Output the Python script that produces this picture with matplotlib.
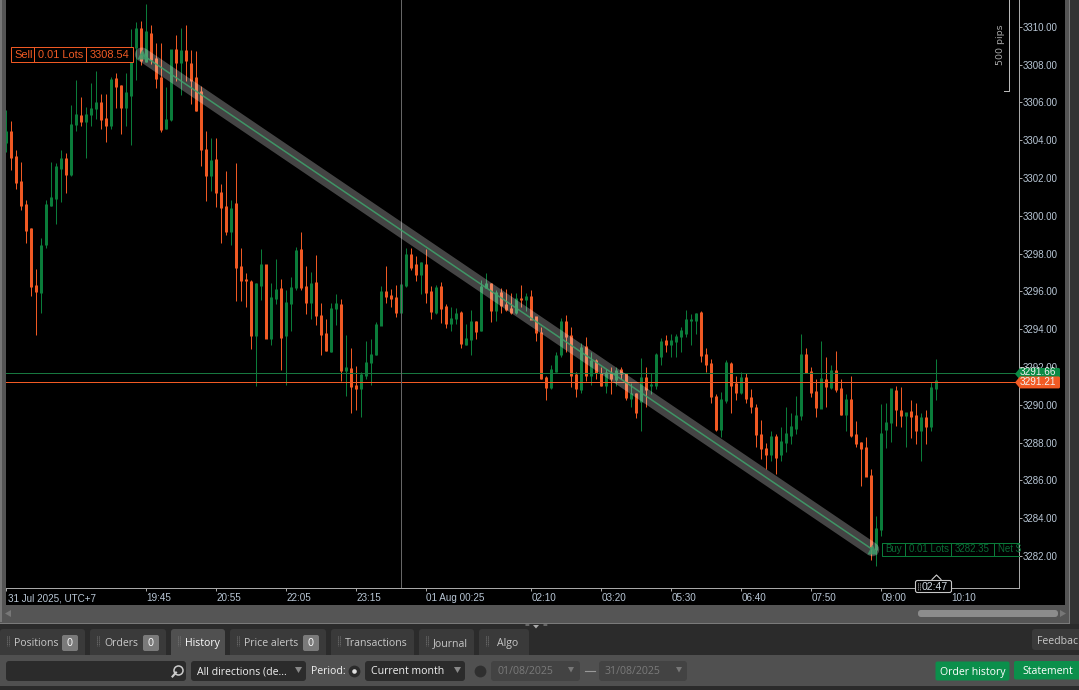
import matplotlib
matplotlib.use("Agg")
import matplotlib.pyplot as plt
from matplotlib.patches import Rectangle, FancyBboxPatch, Polygon
from matplotlib.transforms import ScaledTranslation

plt.rcParams['font.family'] = ['Open Sans', 'DejaVu Sans']

opens = [3303.86,3304.46,3303.14,3301.82,3300.60,3299.33,3296.31,3295.94,3298.48,3300.54,
3300.91,3302.50,3303.03,3302.19,3304.83,3305.31,3304.99,3305.36,3305.68,3305.99,
3305.15,3304.78,3307.27,3306.90,3305.73,3306.37,3308.91,3309.91,3308.17,3309.65,
3308.31,3307.32,3304.62,3305.10,3308.78,3308.11,3308.75,3308.06,3307.32,3306.58,
3303.51,3302.13,3302.98,3301.24,3300.49,3299.17,3300.65,3297.32,3296.63,3296.52,
3293.67,3296.31,3297.42,3293.51,3295.62,3296.15,3293.67,3295.36,3296.21,3298.22,
3296.26,3295.41,3296.47,3294.73,3293.77,3292.82,3295.10,3295.31,3291.82,3291.92,
3291.02,3290.86,3291.55,3292.24,3292.66,3294.20,3295.99,3295.78,3295.68,3294.88,
3296.31,3297.95,3297.43,3296.90,3297.43,3295.99,3294.88,3296.26,3295.20,3294.31,
3294.57,3294.88,3293.19,3293.46,3294.40,3293.93,3296.19,3296.42,3294.99,3295.94,
3295.31,3295.10,3294.87,3295.62,3295.57,3295.73,3294.67,3293.83,3291.45,3290.92,
3291.76,3292.66,3294.40,3293.67,3291.60,3290.81,3293.08,3291.55,3292.35,3291.66,
3291.02,3291.66,3291.34,3291.87,3291.66,3290.34,3290.60,3290.18,3291.45,3291.02,
3291.02,3292.55,3293.40,3293.19,3293.35,3293.61,3293.77,3294.46,3294.46,3294.88,
3292.66,3292.19,3290.44,3288.70,3290.23,3292.19,3291.13,3290.65,3291.45,3290.39,
3289.86,3288.43,3287.69,3287.37,3288.32,3287.37,3288.01,3288.37,3288.75,3289.44,
3292.66,3291.76,3290.71,3289.81,3291.34,3290.92,3291.82,3290.86,3289.49,3290.28,
3288.43,3288.01,3287.74,3286.26,3282.35,3283.39,3288.70,3289.06,3290.76,3289.70,
3289.44,3289.65,3289.44,3288.64,3289.33,3288.85,3290.86]
highs = [3305.62,3305.04,3303.46,3302.86,3300.86,3299.33,3297.16,3298.80,3300.81,3302.86,
3302.80,3303.46,3303.33,3305.87,3307.16,3306.26,3305.77,3307.05,3307.64,3306.42,
3306.47,3307.32,3307.57,3306.90,3307.58,3309.86,3310.28,3310.33,3311.18,3310.07,
3309.15,3309.12,3306.79,3308.78,3309.59,3309.96,3310.07,3308.75,3308.70,3306.86,
3304.51,3304.14,3304.09,3301.66,3302.35,3300.81,3302.77,3298.32,3296.95,3296.58,
3296.47,3298.22,3297.42,3296.47,3297.69,3296.63,3296.05,3296.74,3298.37,3299.12,
3297.32,3297.05,3297.90,3295.41,3294.52,3295.36,3295.84,3295.62,3293.67,3292.98,
3292.03,3291.76,3293.35,3293.46,3294.40,3296.31,3297.37,3296.15,3296.36,3296.36,
3298.32,3298.27,3297.85,3297.58,3298.22,3296.26,3296.36,3296.52,3295.31,3295.20,
3295.10,3294.94,3294.26,3294.99,3294.46,3296.58,3296.95,3296.42,3296.05,3296.19,
3296.15,3295.89,3295.94,3296.36,3295.94,3296.05,3294.67,3294.14,3291.55,3292.08,
3292.82,3294.57,3294.73,3294.14,3291.76,3293.25,3293.61,3292.77,3292.40,3291.98,
3291.92,3291.98,3291.98,3291.98,3291.66,3291.13,3290.60,3292.50,3291.98,3291.66,
3292.72,3293.51,3293.67,3293.77,3293.77,3294.09,3295.04,3294.83,3294.88,3294.94,
3292.98,3292.40,3290.55,3290.70,3292.35,3292.24,3291.55,3291.71,3291.66,3290.81,
3290.02,3289.17,3287.99,3288.59,3288.48,3288.85,3289.91,3289.54,3290.49,3293.72,
3292.98,3291.98,3291.34,3293.35,3292.55,3292.13,3292.87,3291.34,3290.55,3291.55,
3289.12,3288.01,3288.27,3286.58,3284.14,3290.02,3290.07,3290.86,3290.97,3290.92,
3289.59,3290.23,3290.07,3289.59,3289.75,3291.18,3292.40]
lows = [3303.37,3302.42,3301.40,3300.33,3298.54,3295.78,3293.67,3294.88,3298.27,3300.54,
3299.59,3300.72,3301.18,3302.10,3304.51,3304.73,3303.08,3304.73,3305.10,3304.57,
3303.93,3304.57,3305.73,3304.35,3304.73,3303.72,3307.16,3307.99,3308.13,3308.01,
3306.77,3304.41,3304.57,3304.99,3307.11,3306.37,3307.11,3305.94,3305.57,3302.63,
3300.76,3301.29,3300.49,3298.54,3299.01,3298.43,3295.47,3295.47,3295.20,3292.93,
3291.02,3295.57,3293.51,3293.19,3295.31,3291.82,3291.07,3293.93,3296.10,3296.10,
3294.78,3294.52,3294.20,3292.61,3292.87,3292.77,3294.20,3291.24,3290.49,3289.54,
3289.70,3289.38,3291.39,3291.07,3292.66,3294.20,3295.36,3295.15,3294.67,3294.88,
3296.21,3297.11,3296.53,3295.84,3295.36,3294.52,3294.78,3294.31,3294.04,3293.88,
3294.26,3292.98,3293.19,3292.66,3293.46,3293.93,3296.19,3294.36,3294.46,3294.88,
3294.94,3294.78,3294.83,3295.20,3294.94,3294.52,3293.40,3291.34,3290.23,3290.81,
3291.76,3292.55,3292.77,3290.92,3290.39,3290.65,3291.24,3291.07,3291.34,3290.97,
3290.65,3290.55,3291.02,3291.34,3290.28,3289.86,3289.28,3288.59,3289.86,3290.55,
3290.81,3292.08,3292.82,3292.55,3292.55,3292.82,3293.61,3293.19,3293.77,3292.29,
3291.76,3290.12,3288.64,3288.32,3290.12,3289.54,3290.23,3290.55,3290.12,3289.54,
3287.79,3287.11,3286.58,3287.05,3286.36,3287.05,3287.48,3287.90,3288.48,3289.22,
3291.71,3290.39,3289.33,3289.81,3289.86,3290.86,3290.70,3289.44,3288.64,3288.32,
3287.79,3285.73,3286.21,3281.81,3281.45,3283.07,3287.74,3288.01,3288.90,3288.85,
3287.79,3288.22,3287.95,3287.00,3287.95,3288.64,3290.23]
closes = [3304.48,3303.10,3301.75,3300.54,3299.22,3296.26,3295.99,3298.45,3300.60,3300.97,
3302.63,3303.03,3302.19,3304.83,3305.36,3304.99,3305.36,3305.68,3305.99,3305.10,
3304.78,3307.21,3306.84,3305.73,3306.52,3308.18,3309.91,3308.22,3309.75,3308.27,
3307.27,3304.57,3305.10,3308.78,3308.11,3308.75,3308.22,3307.16,3305.57,3303.51,
3302.13,3302.93,3301.24,3300.44,3299.17,3300.39,3297.27,3296.58,3296.58,3293.67,
3296.42,3297.42,3293.51,3295.68,3296.10,3293.56,3295.41,3296.21,3298.17,3296.21,
3295.41,3296.42,3294.73,3293.72,3292.87,3295.10,3295.36,3291.82,3291.98,3290.97,
3290.86,3291.60,3292.24,3292.66,3294.24,3295.99,3295.73,3295.62,3294.88,3296.36,
3297.95,3297.27,3296.90,3297.53,3295.94,3294.94,3296.21,3295.10,3294.31,3294.57,
3294.83,3293.25,3293.51,3294.40,3293.88,3296.26,3296.42,3294.99,3295.94,3295.25,
3295.04,3294.88,3295.62,3295.57,3295.73,3294.52,3293.83,3291.39,3290.92,3291.87,
3292.61,3294.40,3293.61,3291.55,3290.86,3293.03,3291.55,3292.35,3291.71,3291.02,
3291.71,3291.39,3291.82,3291.66,3290.39,3290.60,3289.59,3291.45,3290.81,3291.07,
3292.66,3293.35,3293.19,3293.40,3293.61,3293.93,3294.52,3294.52,3294.83,3292.61,
3292.13,3290.44,3288.70,3290.28,3292.24,3291.02,3290.65,3291.45,3290.34,3289.91,
3288.43,3287.69,3287.37,3288.32,3287.21,3288.06,3288.48,3288.85,3289.44,3292.66,
3291.71,3290.65,3289.86,3291.39,3290.97,3291.82,3290.81,3289.49,3290.28,3288.38,
3287.95,3287.69,3286.21,3282.52,3283.46,3288.48,3289.06,3290.86,3289.75,3289.44,
3289.59,3289.38,3288.64,3289.33,3288.85,3290.92,3291.28]

y_ticks = [3282,3284,3286,3288,3290,3292,3294,3296,3298,3300,3302,3304,3306,3308,3310]
x_tick_pos = [0,28,42,56,70,84,105,119,133,147,161,175,189]
x_tick_labels = ['31 Jul 2025, UTC+7','19:45','20:55','22:05','23:15','01 Aug 00:25',
                 '02:10','03:20','05:30','06:40','07:50','09:00','10:10']
ask_price = 3291.66
bid_price = 3291.21
sell_price = 3308.54
buy_price = 3282.35
sell_index = 27.1
buy_index = 173.2
cursor_index = 79

RED = '#f15a24'
GREEN = '#0b7d3b'
ROW = '#505050'
W, H = 1079, 690
Y0 = 26.8   # pixel row of the 3310 level

fig = plt.figure(figsize=(W/100, H/100), dpi=100, facecolor=ROW)

def px_axes(z):
    a = fig.add_axes([0, 0, 1, 1], zorder=z)
    a.set_xlim(0, W); a.set_ylim(H, 0); a.axis('off'); a.patch.set_alpha(0)
    return a

bg = px_axes(0)
fg = px_axes(5)

def rect(a, x0, y0, x1, y1, color, **kw):
    a.add_patch(Rectangle((x0, y0), x1-x0, y1-y0, facecolor=color, edgecolor='none', **kw))

def rrect(a, x0, y0, x1, y1, color, r=3, **kw):
    a.add_patch(FancyBboxPatch((x0+r, y0+r), x1-x0-2*r, y1-y0-2*r,
                boxstyle=f'round,pad={r},rounding_size={r}', facecolor=color, edgecolor='none', **kw))

# window chrome
rect(bg, 0, 0, W, 624, '#555555')
rect(bg, 0, 0, 1.5, 622, '#777777')
rect(bg, 6, 0, 1065, 604.7, '#000000')
rect(bg, 1070, 0, W, 624, '#333333')
rect(bg, 0, 623, 1070, 624, '#7a7a7a')
rect(bg, 1069, 0, 1070, 624, '#7a7a7a')
rect(bg, 0, 624, W, 655, '#2b2b2b')
rect(bg, 0, 655, W, H, ROW)
rect(bg, 0, 686, W, H, '#2b2b2b')

# chart
ax = fig.add_axes([6/W, 1-588/H, (1019-6)/W, 588/H], zorder=2, facecolor='#000000')
ax.set_xlim(-0.06, 202.54)
ax.set_ylim(3310-(588-Y0)/18.9, 3310+Y0/18.9)
idx = list(range(len(opens)))
colors = [GREEN if c >= o else RED for o, c in zip(opens, closes)]
ax.vlines(idx, lows, highs, colors=colors, linewidth=0.715, zorder=2)
body_lo = [min(o, c) - 0.02 for o, c in zip(opens, closes)]
body_hi = [max(o, c) + 0.02 for o, c in zip(opens, closes)]
ax.vlines(idx, body_lo, body_hi, colors=colors, linewidth=2.15, zorder=3, capstyle='butt')
ax.axhline(ask_price, color='#17773f', lw=0.715, zorder=4, antialiased=False)
ax.axhline(bid_price, color=RED, lw=0.715, zorder=4, antialiased=False)
ax.axvline(cursor_index, color='#666666', lw=0.715, zorder=5, antialiased=False)
ax.plot([sell_index, buy_index], [sell_price, buy_price], color='white', alpha=0.27,
        lw=10, solid_capstyle='round', zorder=6)
ax.plot([sell_index, buy_index], [sell_price, buy_price], color='#3fa36c', alpha=0.85,
        lw=1.1, zorder=7)
ax.plot([sell_index, buy_index], [sell_price, buy_price], ls='none', marker='^', ms=7,
        color='#3f9a6a', alpha=0.85, mec='none', zorder=8)

ax.yaxis.tick_right()
ax.set_yticks(y_ticks)
ax.set_yticklabels([f'{v:.2f}' for v in y_ticks], fontsize=7.0, color='#b9c7d6',
                   family=['Liberation Sans'])
ax.tick_params(axis='y', length=2, width=0.715, color='#aaaaaa', pad=0.6)
ax.set_xticks(x_tick_pos)
ax.set_xticklabels(x_tick_labels, fontsize=7.1, color='#b9c7d6', ha='left',
                   family=['Liberation Sans'])
ax.tick_params(axis='x', length=2, width=0.715, color='#aaaaaa', pad=1.8)
first_label = ax.get_xticklabels()[0]
first_label.set_transform(first_label.get_transform()
                          + ScaledTranslation(0.015, 0, fig.dpi_scale_trans))
for s in ['top', 'left']:
    ax.spines[s].set_visible(False)
for s in ['right', 'bottom']:
    ax.spines[s].set_color('#aaaaaa'); ax.spines[s].set_linewidth(0.715)

def y_of(p):
    return Y0 + (3310-p)*18.9

# sell label
fg.add_patch(Rectangle((10.5, 46.5), 122.5, 15, fc='#000000', ec=RED, lw=0.715))
for xs in (33.5, 85.5):
    fg.plot([xs, xs], [46.5, 61.5], color=RED, lw=0.715)
tk = dict(fontsize=7.9, va='center', color=RED, family=['Liberation Sans'])
fg.text(14.5, 54.8, 'Sell', **tk)
fg.text(38.5, 54.8, '0.01 Lots', **tk)
fg.text(90, 54.8, f'{sell_price:.2f}', **tk)

# buy label
BG = '#0a6b35'
fg.plot([1019, 881.5, 881.5, 1019], [542.5, 542.5, 555.5, 555.5], color=GREEN, lw=0.715)
for xs in (905, 950.5, 993.5):
    fg.plot([xs, xs], [542.5, 555.5], color=GREEN, lw=0.715)
tk = dict(fontsize=7.0, va='center', color=BG, family=['Liberation Sans'])
fg.text(885, 549.3, 'Buy', **tk)
fg.text(909, 549.3, '0.01 Lots', **tk)
fg.text(955, 549.3, f'{buy_price:.2f}', **tk)
t = fg.text(998, 549.3, 'Net $', **tk)
t.set_clip_path(Rectangle((881, 540), 138, 18, transform=fg.transData))

# price tags
def tag(p, color, dy):
    y = y_of(p) + 0.5
    fg.add_patch(Polygon([(1015, y), (1020, y-6), (1059, y-6), (1060, y-5), (1060, y+5),
                          (1059, y+6), (1020, y+6)], closed=True, fc=color, ec='none'))
    fg.text(1038, y+dy, f'{p:.2f}', ha='center', va='center', color='#f2f2f2', fontsize=7.2,
            family=['Liberation Sans'])
tag(ask_price, '#0b8a45', -1.6)
tag(bid_price, RED, 0.0)

# 500 pips ruler
fg.plot([1008.7, 1008.7, 1004], [0, 91, 91], color='#bbbbbb', lw=0.715)
fg.text(1000.5, 45, '500 pips', rotation=90, ha='center', va='center', color='#a8a8a8',
        fontsize=6.8, family=['DejaVu Sans'])

# countdown
fg.plot([932, 936.5, 941], [579.5, 575, 579.5], color='#d0d0d0', lw=0.8)
fg.add_patch(FancyBboxPatch((916, 581), 35, 11, boxstyle='round,pad=0.5,rounding_size=2',
                            fc='#000000', ec='#c8c8c8', lw=0.8))
fg.text(921.5, 587, '02:47', va='center', color='#cfd8e0', fontsize=7.6, family=['Liberation Sans'])
for xx in (917.7, 919.5):
    fg.plot([xx, xx], [583, 590], color='#bbbbbb', lw=0.7, ls=(0, (1, 1)))

# scrollbar
rrect(fg, 918, 610, 1058, 617, '#8c8c8c', r=3)
fg.add_patch(Polygon([(1060, 610), (1060, 617), (1066, 613.5)], fc='#777777', ec='none'))
fg.add_patch(Polygon([(11, 610), (11, 617), (5, 613.5)], fc='#777777', ec='none'))

# splitter
fg.text(527, 626, '=', fontsize=6, color='#aaaaaa', ha='center', va='center')
fg.add_patch(Polygon([(533, 625), (539, 625), (536, 628.5)], fc='#aaaaaa', ec='none'))
fg.text(545, 626, '=', fontsize=6, color='#aaaaaa', ha='center', va='center')

# tabs
UI = dict(va='center', fontsize=7.6, family=['Open Sans'])
tabs = [('Positions', 0, 85, 14, 62), ('Orders', 90, 166, 104, 143), ('History', 171, 225, 185, None),
        ('Price alerts', 230, 326, 244, 303), ('Transactions', 331, 414, 345, None),
        ('Journal', 419, 474, 433, None), ('Algo', 479, 529, 497, None)]
for name, x0, x1, tx, badge in tabs:
    active = name == 'History'
    rrect(fg, x0, 629, x1, 660, ROW if active else '#3a3a3a', r=3)
    rect(fg, x0-1, 655, x1+1, 660, ROW)
    fg.text(tx, 643.3, name, color='#ffffff' if active else '#c8c8c8', **UI)
    for xx in (x0+6.5, x0+8.5):
        fg.plot([xx, xx], [636, 646], color='#777777', lw=0.7, ls=(0, (1, 1)))
    if badge is not None:
        rrect(fg, badge, 635, badge+16, 651, '#7a7a7a', r=2)
        fg.text(badge+7.5, 644, '0', color='#ffffff', ha='center', fontsize=7.6, va='center',
                family=['Open Sans'])

rrect(fg, 1032, 629, 1090, 650, '#3a3a3a', r=3)
fg.text(1037, 641.3, 'Feedback', color='#c8c8c8', **UI)

# filter row
rrect(fg, 6, 661, 186, 681, '#2b2b2b', r=3)
fg.plot([176, 172.5], [672.5, 676.5], color='#cccccc', lw=1.5)
fg.plot([178], [670], marker='o', ms=6.5, mfc='none', mec='#cccccc', mew=1.1)
rrect(fg, 191, 661, 306, 681, '#2b2b2b', r=3)
fg.text(197, 671.8, 'All directions (de...', color='#f0f0f0', **UI)
fg.add_patch(Polygon([(295, 667), (302, 667), (298.5, 673)], fc='#888888', ec='none'))
fg.text(311, 671.8, 'Period:', color='#f0f0f0', **UI)
fg.plot([354], [671], marker='o', ms=8.5, mfc='#2b2b2b', mec='none')
fg.plot([354], [671], marker='o', ms=3.3, mfc='#e0e0e0', mec='none')
rrect(fg, 365, 661, 465, 681, '#2b2b2b', r=3)
fg.text(371, 671.8, 'Current month', color='#f0f0f0', **UI)
fg.add_patch(Polygon([(454, 667), (461, 667), (457.5, 673)], fc='#888888', ec='none'))
fg.plot([480], [671], marker='o', ms=8.5, mfc='#2f2f2f', mec='none')
rrect(fg, 491, 661, 580, 681, '#434343', r=3)
fg.text(497, 671.8, '01/08/2025', color='#7a7a7a', **UI)
fg.add_patch(Polygon([(568, 667), (574, 667), (571, 672.5)], fc='#777777', ec='none'))
fg.plot([585, 595], [671, 671], color='#999999', lw=0.8)
rrect(fg, 599, 661, 687, 681, '#434343', r=3)
fg.text(605, 671.8, '31/08/2025', color='#7a7a7a', **UI)
fg.add_patch(Polygon([(676, 667), (682, 667), (679, 672.5)], fc='#777777', ec='none'))
rrect(fg, 935.5, 661.5, 1009.5, 680.5, '#0b8f4b', r=2)
fg.text(972.5, 672.3, 'Order history', color='#ffffff', ha='center', **UI)
rrect(fg, 1014, 661, 1090, 679.5, '#0b8f4b', r=2)
fg.text(1048, 671.3, 'Statement', color='#ffffff', ha='center', **UI)

fig.savefig('out.png', dpi=100, facecolor=fig.get_facecolor())
